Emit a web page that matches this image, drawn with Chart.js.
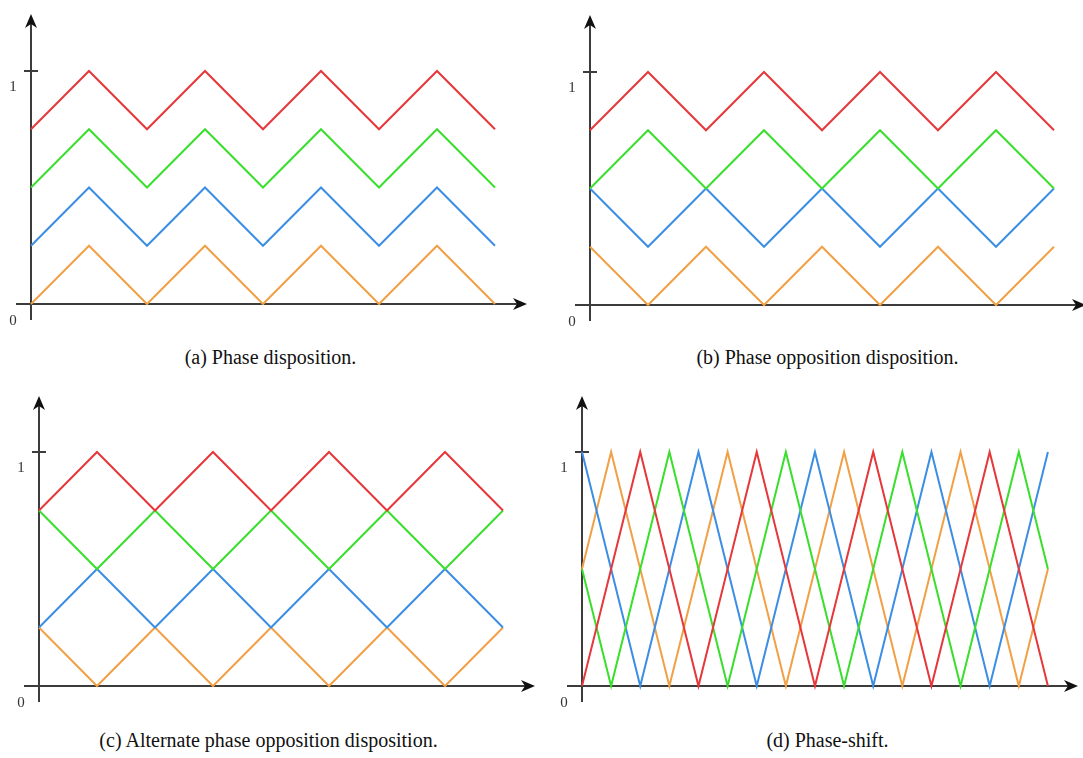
<!DOCTYPE html>
<html>
<head>
<meta charset="utf-8">
<script src="https://cdn.jsdelivr.net/npm/chart.js@4.4.1/dist/chart.umd.min.js"></script>
<style>
  html, body { margin: 0; padding: 0; background: #fff; }
  body { width: 1083px; height: 758px; position: relative; overflow: hidden; }
  canvas { position: absolute; }
  .cap { position: absolute; width: 541px; text-align: center;
         font-family: "Liberation Serif", "DejaVu Serif", serif; font-size: 20px; color: #111; }
</style>
</head>
<body>
<canvas id="pa" width="541" height="335" style="left:0;top:0"></canvas>
<canvas id="pb" width="542" height="335" style="left:541px;top:0"></canvas>
<canvas id="pc" width="541" height="335" style="left:0;top:379px"></canvas>
<canvas id="pd" width="542" height="335" style="left:541px;top:379px"></canvas>
<div class="cap" style="left:0;top:346px">(a) Phase disposition.</div>
<div class="cap" style="left:557px;top:346px">(b) Phase opposition disposition.</div>
<div class="cap" style="left:-2px;top:729px">(c) Alternate phase opposition disposition.</div>
<div class="cap" style="left:557px;top:729px">(d) Phase-shift.</div>
<script>
// x steps: half carrier periods for (a)-(c), quarter periods for (d)
const halfSteps = [0, 1, 2, 3, 4, 5, 6, 7, 8];
const quarterSteps = [0, 1, 2, 3, 4, 5, 6, 7, 8, 9, 10, 11, 12, 13, 14, 15, 16];

// (a) phase disposition
const redA    = [0.75, 1, 0.75, 1, 0.75, 1, 0.75, 1, 0.75];
const greenA  = [0.5, 0.75, 0.5, 0.75, 0.5, 0.75, 0.5, 0.75, 0.5];
const blueA   = [0.25, 0.5, 0.25, 0.5, 0.25, 0.5, 0.25, 0.5, 0.25];
const orangeA = [0, 0.25, 0, 0.25, 0, 0.25, 0, 0.25, 0];

// (b) phase opposition disposition
const redB    = [0.75, 1, 0.75, 1, 0.75, 1, 0.75, 1, 0.75];
const greenB  = [0.5, 0.75, 0.5, 0.75, 0.5, 0.75, 0.5, 0.75, 0.5];
const blueB   = [0.5, 0.25, 0.5, 0.25, 0.5, 0.25, 0.5, 0.25, 0.5];
const orangeB = [0.25, 0, 0.25, 0, 0.25, 0, 0.25, 0, 0.25];

// (c) alternate phase opposition disposition
const redC    = [0.75, 1, 0.75, 1, 0.75, 1, 0.75, 1, 0.75];
const greenC  = [0.75, 0.5, 0.75, 0.5, 0.75, 0.5, 0.75, 0.5, 0.75];
const blueC   = [0.25, 0.5, 0.25, 0.5, 0.25, 0.5, 0.25, 0.5, 0.25];
const orangeC = [0.25, 0, 0.25, 0, 0.25, 0, 0.25, 0, 0.25];

// (d) phase-shift
const redD    = [0, 0.5, 1, 0.5, 0, 0.5, 1, 0.5, 0, 0.5, 1, 0.5, 0, 0.5, 1, 0.5, 0];
const greenD  = [0.5, 0, 0.5, 1, 0.5, 0, 0.5, 1, 0.5, 0, 0.5, 1, 0.5, 0, 0.5, 1, 0.5];
const blueD   = [1, 0.5, 0, 0.5, 1, 0.5, 0, 0.5, 1, 0.5, 0, 0.5, 1, 0.5, 0, 0.5, 1];
const orangeD = [0.5, 1, 0.5, 0, 0.5, 1, 0.5, 0, 0.5, 1, 0.5, 0, 0.5, 1, 0.5, 0, 0.5];

const colors = {
    red: 'rgb(230, 55, 58)',
    green: 'rgb(58, 222, 44)',
    blue: 'rgb(60, 142, 228)',
    orange: 'rgb(242, 160, 70)'
};
const axisColor = '#3c3c3c';

function pts(xs, ys) {
    return xs.map(function (x, i) { return { x: x, y: ys[i] }; });
}

// axes with arrows, tick at 1, labels 0 and 1
const arrowAxes = {
    id: 'arrowAxes',
    beforeDatasetsDraw: function (chart) {
        const ctx = chart.ctx;
        const sx = chart.scales.x, sy = chart.scales.y;
        const ox = sx.getPixelForValue(0), oy = sy.getPixelForValue(0);
        const y1 = sy.getPixelForValue(1);
        const xEnd = ox + 496, yEnd = oy - 290;
        ctx.save();
        ctx.strokeStyle = axisColor;
        ctx.fillStyle = '#111';
        ctx.lineWidth = 2;
        ctx.beginPath();
        ctx.moveTo(ox - 15, oy); ctx.lineTo(xEnd - 8, oy);
        ctx.moveTo(ox, oy + 16); ctx.lineTo(ox, yEnd + 8);
        ctx.moveTo(ox - 7, y1); ctx.lineTo(ox + 7, y1);
        ctx.stroke();
        // arrow heads
        ctx.beginPath();
        ctx.moveTo(xEnd, oy); ctx.lineTo(xEnd - 14, oy - 6);
        ctx.lineTo(xEnd - 10, oy); ctx.lineTo(xEnd - 14, oy + 6); ctx.closePath();
        ctx.fill();
        ctx.beginPath();
        ctx.moveTo(ox, yEnd); ctx.lineTo(ox - 6, yEnd + 14);
        ctx.lineTo(ox, yEnd + 10); ctx.lineTo(ox + 6, yEnd + 14); ctx.closePath();
        ctx.fill();
        ctx.font = '15px "Liberation Serif", serif';
        ctx.fillStyle = '#333';
        ctx.textAlign = 'center';
        ctx.textBaseline = 'middle';
        ctx.fillText('1', ox - 18, y1 + 16);
        ctx.fillText('0', ox - 18, oy + 17);
        ctx.restore();
    }
};

function makeChart(id, xs, series, origin, unit) {
    const cv = document.getElementById(id);
    const w = cv.width, h = cv.height;
    const names = ['red', 'green', 'blue', 'orange'];
    return new Chart(cv.getContext('2d'), {
        type: 'line',
        data: {
            datasets: series.map(function (s, i) {
                return {
                    data: pts(xs, s),
                    borderColor: colors[names[i]],
                    borderWidth: 2,
                    pointRadius: 0,
                    tension: 0,
                    fill: false
                };
            })
        },
        options: {
            animation: false,
            responsive: false,
            layout: { padding: 0 },
            plugins: { legend: { display: false }, tooltip: { enabled: false } },
            scales: {
                x: { type: 'linear', display: false,
                     min: -origin[0] / unit[0], max: (w - origin[0]) / unit[0] },
                y: { type: 'linear', display: false,
                     min: -(h - origin[1]) / unit[1], max: origin[1] / unit[1] }
            }
        },
        plugins: [arrowAxes]
    });
}

makeChart('pa', halfSteps, [redA, greenA, blueA, orangeA], [31, 304], [58, 233]);
makeChart('pb', halfSteps, [redB, greenB, blueB, orangeB], [49, 305], [58, 233]);
makeChart('pc', halfSteps, [redC, greenC, blueC, orangeC], [39, 307], [58, 234]);
makeChart('pd', quarterSteps, [redD, greenD, blueD, orangeD], [41, 307], [29.12, 234]);
</script>
</body>
</html>
